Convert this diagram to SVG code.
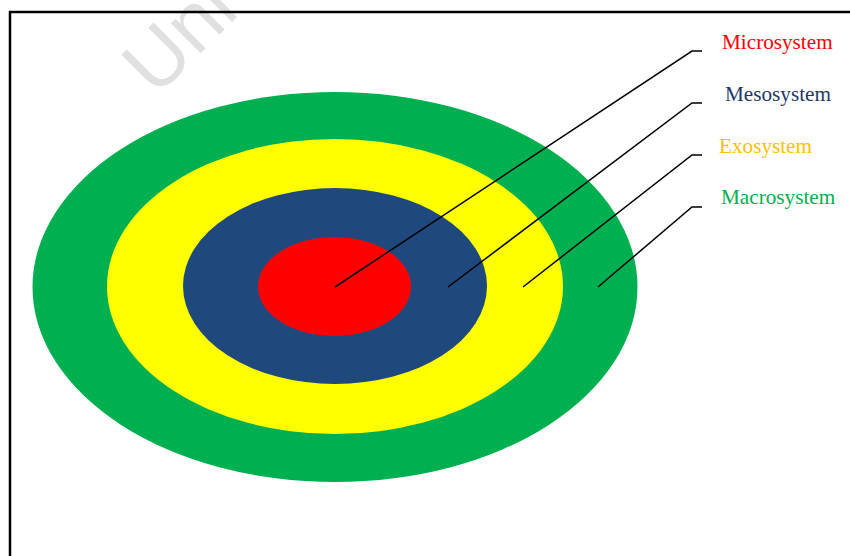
<svg xmlns="http://www.w3.org/2000/svg" width="850" height="556" viewBox="0 0 850 556">
<style>
.lbl{font-family:"Liberation Serif","Times New Roman",serif;font-size:21.2px}
.con{fill:none;stroke:#000;stroke-width:1.5}
</style>
<rect width="850" height="556" fill="#fff"/>
<text x="156" y="98" transform="rotate(-45 156 98)" font-family="Liberation Sans,Arial,sans-serif" font-size="80" fill="#e0e0e0">Uni</text>
<path d="M10,556 V12 H850" fill="none" stroke="#000" stroke-width="2.5"/>
<g id="macrosystem"><ellipse cx="335" cy="287" rx="302.5" ry="195" fill="#00B050"/></g>
<g id="exosystem"><ellipse cx="335" cy="286.5" rx="228" ry="147.5" fill="#FFFF00"/></g>
<g id="mesosystem"><ellipse cx="335" cy="286" rx="152" ry="98" fill="#1F497D"/></g>
<g id="microsystem"><ellipse cx="334.5" cy="286.5" rx="76.5" ry="49.5" fill="#FF0000"/></g>
<g id="connectors">
<polyline class="con" points="335,287 692,51 702,51"/>
<polyline class="con" points="448,287 692,103 702,103"/>
<polyline class="con" points="523,287 692,155 702,155"/>
<polyline class="con" points="598,287 692,207 702,207"/>
</g>
<g id="label-micro"><text class="lbl" x="722" y="49" fill="#FF0000">Microsystem</text></g>
<g id="label-meso"><text class="lbl" x="725" y="101" fill="#1F3864">Mesosystem</text></g>
<g id="label-exo"><text class="lbl" x="719" y="153" fill="#FFC000">Exosystem</text></g>
<g id="label-macro"><text class="lbl" x="721" y="204" fill="#00B050">Macrosystem</text></g>
</svg>
